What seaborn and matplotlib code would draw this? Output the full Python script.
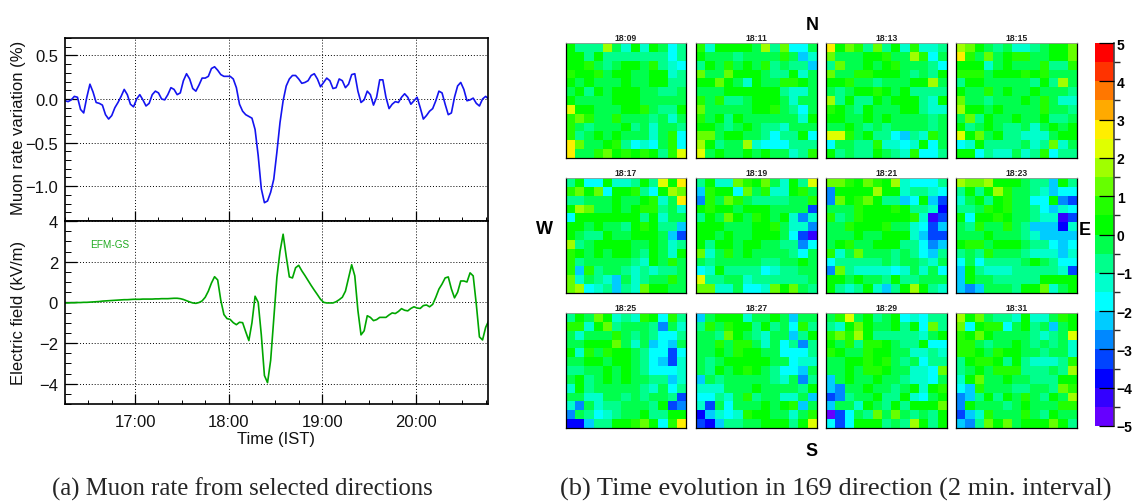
import numpy as np
import matplotlib
matplotlib.use("Agg")
import matplotlib.pyplot as plt
import seaborn as sns
from matplotlib.colors import ListedColormap, BoundaryNorm
from matplotlib.ticker import MultipleLocator, FuncFormatter

# ================================================================
# DATA
# ================================================================
# left panels, one sample every 2 minutes starting 16:15
START_MIN = 975
MUON_RATE = [
    -0.02, -0.03, -0.01, 0.03, 0.02, -0.12, -0.16, 0.02, 0.17, 0.08,
    -0.04, -0.05, -0.07, -0.18, -0.23, -0.19, -0.10, -0.04, 0.03, 0.11,
    0.05, -0.06, -0.09, 0.00, 0.05, -0.01, -0.08, -0.05, 0.05, 0.09,
    0.07, 0.00, -0.01, 0.05, 0.13, 0.11, 0.05, 0.07, 0.21, 0.29,
    0.23, 0.12, 0.09, 0.16, 0.24, 0.24, 0.26, 0.35, 0.37, 0.33,
    0.28, 0.26, 0.26, 0.26, 0.23, 0.13, -0.06, -0.14, -0.18, -0.20,
    -0.22, -0.35, -0.65, -1.03, -1.19, -1.17, -1.07, -0.92, -0.61, -0.27,
    -0.02, 0.15, 0.23, 0.27, 0.27, 0.23, 0.18, 0.19, 0.21, 0.27,
    0.29, 0.23, 0.14, 0.19, 0.24, 0.21, 0.12, 0.13, 0.23, 0.21,
    0.13, 0.17, 0.28, 0.29, 0.09, -0.04, -0.01, 0.09, 0.05, -0.07,
    0.02, 0.22, 0.22, 0.02, -0.11, -0.06, -0.03, -0.04, 0.02, 0.06,
    0.02, -0.06, -0.02, 0.02, -0.10, -0.23, -0.19, -0.14, -0.11, -0.02,
    0.09, 0.07, -0.06, -0.18, -0.16, 0.02, 0.15, 0.19, 0.11, -0.02,
    -0.01, 0.01, -0.05, -0.08, 0.00, 0.03, 0.00,
]
E_FIELD = [
    -0.03, -0.03, -0.02, -0.02, -0.01, -0.01, 0.00, 0.00, 0.01, 0.02,
    0.03, 0.04, 0.06, 0.07, 0.08, 0.09, 0.10, 0.11, 0.12, 0.13,
    0.13, 0.14, 0.15, 0.15, 0.15, 0.16, 0.16, 0.16, 0.16, 0.17,
    0.17, 0.18, 0.18, 0.18, 0.19, 0.20, 0.20, 0.18, 0.14, 0.08,
    0.02, -0.03, -0.05, -0.01, 0.07, 0.25, 0.55, 0.95, 1.26, 1.10,
    0.10, -0.60, -0.80, -0.84, -1.00, -1.10, -0.98, -1.00, -1.45, -1.88,
    -1.00, 0.30, 0.00, -1.60, -3.60, -3.95, -2.85, -0.80, 1.23, 2.50,
    3.35, 2.25, 1.25, 1.20, 1.70, 1.82, 1.55, 1.32, 1.07, 0.83,
    0.60, 0.38, 0.15, 0.00, -0.03, -0.03, -0.03, 0.03, 0.13, 0.25,
    0.55, 1.20, 1.85, 1.30, -0.40, -1.60, -1.40, -0.66, -0.74, -0.90,
    -0.85, -0.74, -0.74, -0.74, -0.62, -0.52, -0.55, -0.45, -0.31, -0.39,
    -0.42, -0.30, -0.22, -0.28, -0.30, -0.16, -0.13, -0.22, -0.10, 0.25,
    0.65, 0.90, 1.20, 1.25, 0.66, 0.22, 0.50, 1.05, 1.05, 1.00,
    1.45, 1.30, -0.10, -1.70, -1.85, -1.23, -0.90,
]

# right panels, variation in tenths of a percent, north row first
T1809 = [
    [2, -8, -8, -8, 18, -3, -13, 2, -13, 2, -3, -18, -8],
    [2, 2, -8, 2, -8, -8, -8, -8, -8, -8, -8, -18, -8],
    [2, 2, 7, -3, -8, -3, 2, 2, -3, 7, -8, -13, -18],
    [7, 2, 2, 7, -3, 2, 2, -3, -3, 2, 2, -13, -8],
    [2, -3, 2, -3, -3, -3, 2, -3, -3, 2, 2, -8, -8],
    [-3, 2, -8, 2, -3, 2, 2, 2, -3, -3, -8, -8, -3],
    [2, -3, -3, -3, -3, 2, 2, 2, -3, -3, -3, -3, -3],
    [23, 2, 2, -3, -3, -3, 2, 2, 7, -3, -8, -8, 2],
    [7, 13, 7, -3, -3, 7, -3, -3, -3, -8, -3, -13, -3],
    [7, -3, -8, -3, -3, -3, 2, -8, -3, -13, -3, -3, -8],
    [7, -8, -3, 2, -3, 2, -3, -3, -3, -13, -3, 7, -18],
    [28, 13, -3, -3, 2, 7, -8, -18, -13, -18, -3, 7, -18],
    [28, -3, -3, 7, 13, 2, 7, 2, 7, 2, -8, 7, 23],
]
T1811 = [
    [7, -13, 2, 2, 2, 2, -3, 18, -8, 13, -18, -18, -3],
    [2, -3, -3, -3, -8, -3, -3, -3, -3, 7, -3, -23, -13],
    [-8, 2, -3, 7, -3, 2, -3, 7, -8, -3, -8, -8, -23],
    [13, -3, -3, 13, 2, 2, 2, -3, -8, -8, 2, -13, -3],
    [2, 2, 13, 2, -3, -13, 2, -3, -3, 7, 7, 2, -3],
    [-3, -3, -3, 2, 2, 2, 2, 2, 2, -8, -13, -13, -3],
    [7, -3, 7, -8, -8, -3, 2, 2, 2, -3, -13, -3, -3],
    [13, -3, -3, -3, -3, -3, 2, 2, 7, -3, -8, -18, -3],
    [7, -3, 2, -8, 2, -3, -3, -3, -3, -3, -3, -13, 2],
    [2, 2, -3, -8, -3, 2, -3, -8, -8, -13, -3, -3, -3],
    [13, 13, -3, 2, 2, -3, -3, -8, -18, -8, -8, 2, -18],
    [18, 2, -8, -3, -3, 18, -13, -18, -18, -18, -8, -8, -8],
    [23, -3, 2, -3, -3, 2, -3, 2, -3, -3, -13, -8, 7],
]
T1813 = [
    [28, 2, 13, 7, -8, 13, -8, 2, -13, 7, -13, -13, -8],
    [13, -3, -3, -3, 2, 2, 7, -3, -3, 18, 7, -18, -3],
    [-8, 13, -3, -3, 2, -3, 2, 7, -3, -3, -3, -8, -18],
    [13, -3, -3, 7, 7, 2, 2, 2, -3, -8, -3, -8, 2],
    [2, 2, 7, -3, -3, -8, -3, -3, -3, 2, 2, 18, -3],
    [-3, -8, -3, 2, 2, 7, 2, -3, 2, -8, -8, -8, -8],
    [18, -8, 2, -8, -8, 2, -3, 2, 2, 2, -8, -13, 2],
    [7, 2, -3, -8, 2, -3, -3, -3, 2, 2, -8, -13, -13],
    [2, 2, -3, -3, 2, -3, 2, -3, -3, -3, -3, -8, -3],
    [-3, -3, 2, -3, -8, -3, -8, -3, -3, -3, -3, -8, -3],
    [23, 23, 7, -3, 2, -8, -8, -18, -23, -8, -13, 7, -3],
    [-18, -3, -3, -8, -8, 7, -13, -13, -18, -13, 2, -18, -3],
    [2, -8, -3, -8, -8, 2, -3, -8, -13, 7, -18, -18, -8],
]
T1815 = [
    [18, 13, 2, -3, -8, -3, -13, -13, -8, -3, 2, 2, 13],
    [28, 7, -3, 13, -3, 2, 7, 7, -3, -3, 2, 2, 13],
    [2, 2, 2, -13, -3, 2, -3, -3, -3, 7, -8, -8, 7],
    [7, 7, 7, -3, 2, 2, 2, 7, 2, 7, -3, -3, -3],
    [-8, 2, 2, -3, -3, -3, -3, -3, -8, 2, -8, 18, -3],
    [2, -3, -3, 7, -3, 2, -3, -3, 2, -3, -3, -3, -8],
    [13, -3, -3, -8, -3, -3, -3, 2, -3, 7, -3, -13, -13],
    [18, 2, 2, -3, 2, -3, -3, -3, -3, 7, -3, -3, -8],
    [-3, 13, -8, 2, -3, -3, 2, -3, -3, 2, -8, -8, -3],
    [2, -8, -3, 2, -3, -8, -8, -3, -13, -3, 2, -3, 2],
    [23, 2, 13, -3, 2, -8, -8, -13, -13, -13, -3, 2, 2],
    [-18, -13, 2, -8, -8, -8, -8, -3, -13, -8, 13, -13, -3],
    [2, 2, -18, -8, -13, -13, -3, -13, -8, 7, -18, -8, -8],
]
T1817 = [
    [-8, 2, -18, -18, 2, -13, -13, -8, 2, -8, 23, 2, 28],
    [7, 13, 2, 13, -18, 2, 2, 7, -8, -18, 2, 18, 13],
    [-8, -8, -3, -3, -3, 2, -3, -3, 2, 7, -13, -3, 28],
    [2, 18, 13, -3, -3, 2, -3, 2, 7, 7, -8, -3, -13],
    [-18, 2, 2, 2, 2, 2, 2, 2, -8, 2, -13, -3, -3],
    [2, 2, -3, 2, -3, -3, -8, 2, 7, 2, -8, -8, -23],
    [2, -3, -8, -8, 2, -3, -3, 2, 2, 2, -3, -23, -33],
    [18, -8, -3, 2, 2, 2, 2, -3, -3, 2, -3, -13, -8],
    [7, 2, -3, 2, -3, 2, 2, -3, -8, 2, -3, -13, 2],
    [7, -8, -3, -3, -3, -3, -3, -8, -13, 2, -3, 7, -3],
    [7, -23, 7, -8, -3, -3, -8, -13, -8, -13, -8, -8, -3],
    [13, -13, -3, -8, -13, -23, -3, -13, -8, -3, -3, 7, -3],
    [13, 18, -18, -13, -8, -23, -8, -13, 13, 2, 2, -3, -3],
]
T1819 = [
    [-8, 2, -13, -13, 13, 7, 2, 13, -3, -13, 2, -8, 23],
    [-23, 7, 2, 2, -18, 13, -3, 7, -13, -13, 2, 7, -3],
    [-28, 7, -3, 13, 7, -3, -8, -8, -8, -8, -3, -3, 7],
    [2, 7, 2, 2, -3, 2, 2, 2, -3, -3, -3, -3, -33],
    [-8, 2, -3, 13, 2, -3, 7, 2, -3, 2, -13, -28, -13],
    [2, 2, 2, -3, -3, -3, 2, 2, 7, -3, -13, -13, -28],
    [2, 2, -3, 2, -3, -3, 2, 2, 2, -3, -18, -33, -43],
    [2, -8, 2, 2, -3, 2, 2, -3, -3, -8, -8, -28, -18],
    [13, -13, -3, 7, -3, 2, -3, -3, -3, -3, -8, -18, -3],
    [-3, -8, -3, -3, -3, -3, -3, -8, -8, -3, -3, 2, -3],
    [-18, -13, 2, -8, -8, -8, -8, -18, -13, -8, -8, -3, -3],
    [23, -8, -8, -3, -3, -13, -8, -8, -8, -8, -8, -8, -3],
    [13, 13, -13, -13, -3, -18, -18, -13, 13, 2, 13, -3, -8],
]
T1821 = [
    [13, 13, 7, 2, 13, 7, 2, 18, -13, -18, -18, -18, -8],
    [-28, 2, 2, 2, 2, 18, 2, 2, -13, -8, -8, -13, -18],
    [-28, 13, 2, 7, 13, 2, -8, -8, -23, -18, 2, -23, -33],
    [-3, -3, -3, 7, 2, 2, 2, 7, 2, -8, -8, -13, -38],
    [7, -8, -3, 7, 2, 2, 2, 2, 2, 7, -13, -43, -33],
    [-3, -3, 7, 2, 2, 2, 7, -3, -3, -13, -18, -33, -23],
    [-3, -3, -3, 2, -3, -3, 2, 2, 2, -13, -23, -33, -33],
    [-3, 2, 7, -3, -3, 2, 2, 2, -8, -8, -18, -28, -23],
    [7, -13, -3, 13, -3, -3, -3, -8, -3, -8, -18, -23, -8],
    [-18, -8, -8, -8, -8, -8, -3, -8, -3, -3, -8, -13, -3],
    [-28, 13, -8, -13, -13, -13, -13, -18, -13, -3, -13, -3, -18],
    [2, 2, -3, 2, -3, -3, -8, 2, -8, -8, -3, -3, -3],
    [2, -8, -13, -8, 2, -13, -23, -8, 2, 18, 2, -8, -13],
]
T1823 = [
    [18, 13, 13, 18, 2, 2, 2, -3, -8, -8, -23, 2, -8],
    [-8, 2, -8, 2, 18, 7, -3, -3, -8, -13, -23, -18, -18],
    [-13, -3, 2, -8, 2, 7, -3, -3, -18, -18, 2, -28, -33],
    [-8, -8, -3, 7, 2, 7, -3, -3, -8, -18, -23, -13, -18],
    [2, -18, 2, 2, 7, 2, -3, -3, -8, -13, -13, -43, -33],
    [-3, -8, 7, -3, -3, 7, -3, -8, -23, -23, -23, -38, -13],
    [-3, -3, -3, 2, -3, -3, -3, -8, -13, -23, -23, -23, -23],
    [2, 7, 7, -3, 2, 2, 2, -3, -8, -8, -18, -23, -18],
    [-8, -3, -8, 7, -3, -3, -3, -8, -13, -13, -13, -23, -13],
    [-18, -3, -18, -8, -8, -8, -8, -3, 2, -3, -8, -18, -18],
    [-23, 2, -8, -13, -13, -13, -8, -8, -8, -8, -8, -13, -33],
    [-23, 2, -3, -3, -8, -8, -8, -8, -8, 2, 2, 2, 2],
    [-23, -28, -23, -3, -3, -3, -8, 2, 2, 13, -13, -3, 2],
]
T1825 = [
    [-8, 2, -3, 13, 2, -13, -8, -13, 7, 2, -18, 7, -8],
    [7, 7, -13, 2, 13, -8, -3, -3, -3, -8, -28, -3, -13],
    [-3, -13, -3, -3, -3, 7, -3, -8, -3, -8, -18, -18, -8],
    [-3, -3, 2, 2, 2, 13, -3, -13, -3, -23, -18, -23, -3],
    [2, -13, 7, -3, 7, 2, 2, -3, -8, -18, -18, -33, -18],
    [-3, -3, 2, 2, -3, 2, 2, -3, -8, -18, -23, -33, -13],
    [-8, -8, -3, -3, 2, -3, 2, -3, -8, -18, -18, -18, -13],
    [-3, 2, -8, -3, 2, -3, 2, -3, -3, -8, -8, -23, -13],
    [-13, 2, -8, -3, -3, -3, -3, -3, -8, -13, -3, -18, -8],
    [-3, -3, -13, -13, -3, -3, -8, -3, -8, -3, -3, -8, -33],
    [-13, -28, -3, -13, -8, -8, -3, -3, -3, -8, 2, -33, -28],
    [-28, -3, -8, -18, -13, -8, -3, -3, 2, -8, -8, 2, 2],
    [-38, -38, -23, -8, -8, 2, 2, 7, 13, 2, -18, 7, 28],
]
T1827 = [
    [-23, -3, 2, 2, 2, -13, -3, -3, 2, -3, -23, -3, -3],
    [-8, 7, -3, 7, 2, 2, -8, 2, -8, -3, -18, 7, -8],
    [-3, -3, -8, 13, 2, -3, -8, -13, -3, -3, -23, -8, 2],
    [-3, -3, 7, -3, 7, 7, -3, -13, -3, -18, -8, -28, -8],
    [-3, -3, 2, -3, 7, 2, 2, -3, -3, -18, -18, -18, -8],
    [-3, -8, -3, 2, 2, 2, 2, 2, -3, -3, -18, -13, -13],
    [-3, -8, 2, -3, 2, 7, 2, -3, -8, -18, -18, -23, -3],
    [-23, -3, -8, -3, -3, -3, -3, -3, -8, -13, -3, -28, -8],
    [-13, -13, -13, -3, -3, -3, 2, -3, -3, -3, -3, -8, 2],
    [-18, -18, -8, -13, -3, 7, -8, -3, -3, -13, -13, -3, -23],
    [-13, -33, -3, -18, -3, -3, -3, 2, -3, 2, 7, -23, -3],
    [-38, -23, -13, -18, -13, 7, 2, 2, -3, -3, -13, -3, 7],
    [-33, -38, -23, -8, -8, -3, -3, 2, 2, 2, -8, 2, 23],
]
T1829 = [
    [-3, 7, 23, -3, 2, -8, -3, 2, -18, -13, -18, -8, -8],
    [-8, -13, 2, 13, 2, -3, -3, 2, -8, 2, -18, 13, -8],
    [7, 13, 7, 18, 2, -8, -8, -8, -8, -8, -13, -3, 2],
    [2, -3, 7, -8, 7, 7, 2, -3, -8, -8, 2, -18, -18],
    [7, 2, -3, -3, 7, 2, 2, -3, -3, -13, -13, -8, -13],
    [-3, -3, 2, 2, 7, 2, 7, -3, -8, -3, -18, -8, -8],
    [-3, -3, 2, -3, 7, 7, 2, -3, -3, -13, -13, -18, 13],
    [-23, -3, 2, -3, -3, 2, -3, -3, -8, -13, -13, -18, -3],
    [-23, -28, -3, -3, 2, -3, -3, -8, -3, 2, -13, 2, 7],
    [-33, -28, -8, -3, -3, 2, -8, -8, 2, -13, -18, -3, 2],
    [-23, -3, -3, -13, 2, -3, -8, 2, -8, 2, 2, 2, 13],
    [-48, -33, -18, -3, -8, 13, -3, 13, -3, -8, -3, -8, 2],
    [-18, -33, -18, 2, 2, 2, -8, -3, -8, 18, 2, -8, 2],
]
T1831 = [
    [18, 2, 13, -3, -8, -8, -13, 2, -13, -13, -3, 7, 2],
    [13, -18, 2, 7, 7, -18, -3, 2, -8, -3, -23, -3, 2],
    [7, 2, 13, 2, -3, -3, -3, -3, -8, -13, -8, -3, 23],
    [7, 7, -3, -8, -3, -3, 2, -3, -8, -3, -8, -3, -13],
    [7, 7, 2, -3, 7, 2, 2, -3, -3, -8, -3, -3, -13],
    [-8, 2, 7, 7, 2, -8, 2, -8, -13, -13, -13, -8, 7],
    [-8, -3, 2, -3, 7, 7, 7, -8, -8, -8, -3, -8, 18],
    [-13, 2, 13, -3, -3, 2, -3, -3, -8, -8, -8, 2, 2],
    [-18, -23, 7, -3, -3, -3, -8, -8, -3, -3, -8, 13, 7],
    [-28, -23, -8, 2, -8, 2, -3, 7, -3, -8, 2, -3, 18],
    [-28, 2, -3, -3, -3, -8, -3, 2, -3, -3, -3, 7, 7],
    [-33, -23, -13, 7, -3, -3, -3, 7, -3, -8, 2, -3, -3],
    [-23, -28, -8, 13, 2, 13, -3, 2, 2, 2, 13, 2, -8],
]
PANEL_TITLES = ["18:09", "18:11", "18:13", "18:15", "18:17", "18:19",
                "18:21", "18:23", "18:25", "18:27", "18:29", "18:31"]
PANEL_CELLS = [T1809, T1811, T1813, T1815, T1817, T1819,
               T1821, T1823, T1825, T1827, T1829, T1831]

# colour of each half-percent band, from -5 up to +5
BAND_COLORS = ["#6600ff", "#3300ff", "#0000ff", "#0044ff", "#0088ff",
               "#00ccff", "#00ffff", "#00ffcc", "#00ff8c", "#00ff4d",
               "#00ff00", "#22ff00", "#66ff00", "#a0ff00", "#e0ff00",
               "#ffee00", "#ffaa00", "#ff7700", "#ff3300", "#ff0000"]
BAND_EDGES = np.arange(-5, 5.5, 0.5)

WIDTH, HEIGHT = 1132, 502

# ================================================================
# SETUP
# ================================================================
sns.set_theme(style="ticks")
plt.rcParams["font.family"] = ["Liberation Sans", "DejaVu Sans"]

fig = plt.figure(figsize=(WIDTH / 100, HEIGHT / 100), dpi=100)


def axes_at(x0, y0, x1, y1):
    """Make axes from pixel edges, measured from the top left."""
    return fig.add_axes([x0 / WIDTH, 1 - y1 / HEIGHT,
                         (x1 - x0) / WIDTH, (y1 - y0) / HEIGHT])


def clock_label(m, pos):
    return f"{int(m // 60)}:{int(m % 60):02d}"


def style_time_axes(ax, ymajor, yminor, ylim):
    ax.set_xlim(975, 1246.5)
    ax.set_ylim(*ylim)
    ax.xaxis.set_major_locator(MultipleLocator(60))
    ax.xaxis.set_minor_locator(MultipleLocator(15))
    ax.yaxis.set_major_locator(MultipleLocator(ymajor))
    ax.yaxis.set_minor_locator(MultipleLocator(yminor))
    ax.tick_params(axis="y", which="major", direction="in", length=8.6,
                   width=0.9, pad=5, labelsize=12, color="black", labelcolor="#111111")
    ax.tick_params(axis="y", which="minor", direction="in", length=4.3, width=0.7, color="black")
    ax.tick_params(axis="x", which="major", direction="in", length=7,
                   width=0.9, pad=7, labelsize=12, color="black", labelcolor="#111111")
    ax.tick_params(axis="x", which="minor", direction="in", length=3, width=0.7, color="black")
    ax.grid(True, which="major", color="black", linestyle=(0, (1, 2)), linewidth=0.7)
    ax.set_axisbelow(True)
    for side in ax.spines:
        ax.spines[side].set_visible(True)
        ax.spines[side].set_linewidth(1.2)
        ax.spines[side].set_color("black")
    ax.set_xlabel("")
    ax.set_ylabel("")
    ax.yaxis.set_major_formatter(FuncFormatter(
        lambda v, p: (f"{v:.1f}" if ymajor < 1 else f"{v:.0f}").replace("-", "\u2212")))


# ================================================================
# LEFT: MUON RATE AND ELECTRIC FIELD
# ================================================================
times = START_MIN + 2 * np.arange(len(MUON_RATE))

ax_muon = axes_at(65, 39, 488, 222)
sns.lineplot(x=times, y=MUON_RATE, ax=ax_muon, color="#1414f0", linewidth=1.2, errorbar=None)
style_time_axes(ax_muon, 0.5, 0.1, (-1.4, 0.7))
ax_muon.tick_params(axis="x", which="both", labelbottom=False)

ax_field = axes_at(65, 222, 488, 405)
sns.lineplot(x=times, y=E_FIELD, ax=ax_field, color="#00a600", linewidth=1.2, errorbar=None)
style_time_axes(ax_field, 2, 0.5, (-5, 4))
ax_field.xaxis.set_major_formatter(FuncFormatter(clock_label))

fig.text(19 / WIDTH, 1 - 128 / HEIGHT, "Muon rate variation (%)", rotation=90,
         ha="center", va="center", fontsize=12, color="#111111")
fig.text(19 / WIDTH, 1 - 313 / HEIGHT, "Electric field (kV/m)", rotation=90,
         ha="center", va="center", fontsize=12, color="#111111")
fig.text(276 / WIDTH, 1 - 439.5 / HEIGHT, "Time (IST)", ha="center", va="center",
         fontsize=12, color="#111111")
fig.text(110 / WIDTH, 1 - 245.5 / HEIGHT, "EFM-GS", ha="center", va="center",
         fontsize=7.2, color="#22aa22")

# ================================================================
# RIGHT: DIRECTION MAPS
# ================================================================
cmap = ListedColormap(BAND_COLORS)
norm = BoundaryNorm(BAND_EDGES, cmap.N)

column_edges = [(566, 686), (696, 817), (826, 947), (956, 1077)]
row_edges = [(44, 159), (179, 294), (314, 429)]
cax = axes_at(1095, 44, 1114, 427)

for k, cells in enumerate(PANEL_CELLS):
    x0, x1 = column_edges[k % 4]
    y0, y1 = row_edges[k // 4]
    ax = axes_at(x0, y0, x1, y1)
    is_last = k == len(PANEL_CELLS) - 1
    sns.heatmap(np.array(cells) / 10, ax=ax, cmap=cmap, norm=norm, square=False,
                xticklabels=False, yticklabels=False, linewidths=0,
                cbar=is_last, cbar_ax=cax if is_last else None,
                cbar_kws={"ticks": list(range(-5, 6))} if is_last else None)
    ax.set_title(PANEL_TITLES[k], fontsize=6.2, fontweight="bold", pad=2, color="#222222")
    ax.set_yticks(range(14))
    ax.set_yticklabels([])
    ax.tick_params(axis="y", left=True, right=True, direction="in", length=1.5, width=0.5, color="black")
    ax.tick_params(axis="x", bottom=False)
    for side in ax.spines:
        ax.spines[side].set_visible(True)
        ax.spines[side].set_linewidth(0.9)
        ax.spines[side].set_color("black")
    ax.spines["top"].set_color("#999999")
    ax.spines["top"].set_linewidth(0.6)

cax.set_axisbelow(False)
cax.tick_params(axis="y", right=True, direction="in", length=11, width=0.9, pad=2, color="black")
cax.set_yticks(list(range(-5, 6)))
cax.set_yticklabels([str(v).replace("-", "\u2212") for v in range(-5, 6)],
                    fontsize=10, fontweight="bold", color="black")
for side in cax.spines:
    cax.spines[side].set_visible(False)
cax.spines["right"].set_visible(True)
cax.spines["right"].set_color("#444444")
cax.spines["right"].set_linewidth(1.2)

for letter, px, py in [("N", 812, 25.5), ("S", 812, 451.5), ("W", 544, 229.5), ("E", 1085, 230.5)]:
    fig.text(px / WIDTH, 1 - py / HEIGHT, letter, ha="center", va="center",
             fontsize=13, fontweight="bold", color="black")

# ================================================================
# CAPTIONS
# ================================================================
fig.text(242 / WIDTH, 1 - 489 / HEIGHT, "(a) Muon rate from selected directions",
         ha="center", va="center", fontsize=17.8, family=["Liberation Serif", "DejaVu Serif"])
fig.text(835.5 / WIDTH, 1 - 489 / HEIGHT, "(b) Time evolution in 169 direction (2 min. interval)",
         ha="center", va="center", fontsize=19, family=["Liberation Serif", "DejaVu Serif"])

fig.savefig("out.png", dpi=100)
